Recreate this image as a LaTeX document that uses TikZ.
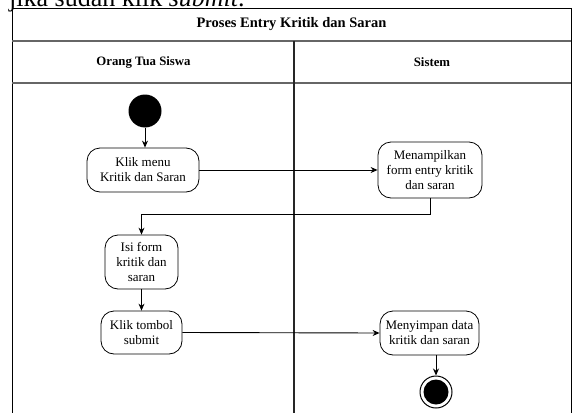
\documentclass[tikz,border=0pt]{standalone}
\usepackage{fontspec}
\setmainfont{Liberation Serif}
\usetikzlibrary{arrows.meta}
\begin{document}
\begin{tikzpicture}[x=1pt,y=-1pt,
  lane/.style={line width=1.2pt,draw=black!85},
  act/.style={draw,line width=0.8pt,rounded corners=13pt,align=center,
    font=\fontsize{13}{15}\selectfont,inner sep=1pt},
  flow/.style={line width=0.9pt,-{Stealth[length=7pt,width=6pt]}},
  hdr/.style={font=\bfseries\fontsize{12.8}{14}\selectfont}]
\useasboundingbox (0,0) rectangle (572,412);
\fill[white] (0,0) rectangle (572,412);
% running text of the page, cut by the top edge
\begin{scope}
  \clip (0,0) rectangle (572,412);
  \node[anchor=base west,inner sep=0pt,font=\fontsize{26}{28}\selectfont] (para) at (9,7) {jika sudah klik \textit{submit}.};
\end{scope}
% swimlane frame
\draw[line width=0.8pt] (12,420) -- (12,8) -- (571,8) -- (571,420);
\draw[lane,draw=black!60] (12,41) -- (571,41);
\draw[lane,draw=black!60] (12,83) -- (571,83);
\draw[lane] (294,41) -- (294,420);
\node[font=\bfseries\fontsize{14.5}{16}\selectfont] (title) at (291.5,24.5) {Proses Entry Kritik dan Saran};
\node[hdr] (lane1) at (143.5,62) {Orang Tua Siswa};
\node[hdr] (lane2) at (432,62) {Sistem};
% activities
\fill (145,111) circle (16.5);
\coordinate (start) at (145,127.5);
\node[act,minimum width=112pt,minimum height=44pt] (a1) at (143,170) {Klik menu\\Kritik dan Saran};
\node[act,minimum width=104pt,minimum height=56pt] (a2) at (430,170) {Menampilkan\\form entry kritik\\dan saran};
\node[act,minimum width=73pt,minimum height=54pt] (a3) at (141.5,262) {Isi form\\kritik dan\\saran};
\node[act,minimum width=81pt,minimum height=43pt] (a4) at (141.5,332.5) {Klik tombol\\submit};
\node[act,minimum width=99pt,minimum height=44pt] (a5) at (429.5,333) {Menyimpan data\\kritik dan saran};
\node[circle,draw,line width=1pt,minimum size=32pt,inner sep=0pt] (end) at (436,392) {};
\fill (end.center) circle (12.5);
% transitions
\draw[flow] (start) -- (a1.north -| start);
\draw[flow] (a1.east) -- (a2.west);
\draw[flow] (a2.south) -- ++(0,16) -| (a3.north);
\draw[flow] (a3.south) -- (a4.north);
\draw[flow] (a4.east) -- (a5.west);
\draw[flow] (a5.south -| end.north) -- (end.north);
\end{tikzpicture}
\end{document}
